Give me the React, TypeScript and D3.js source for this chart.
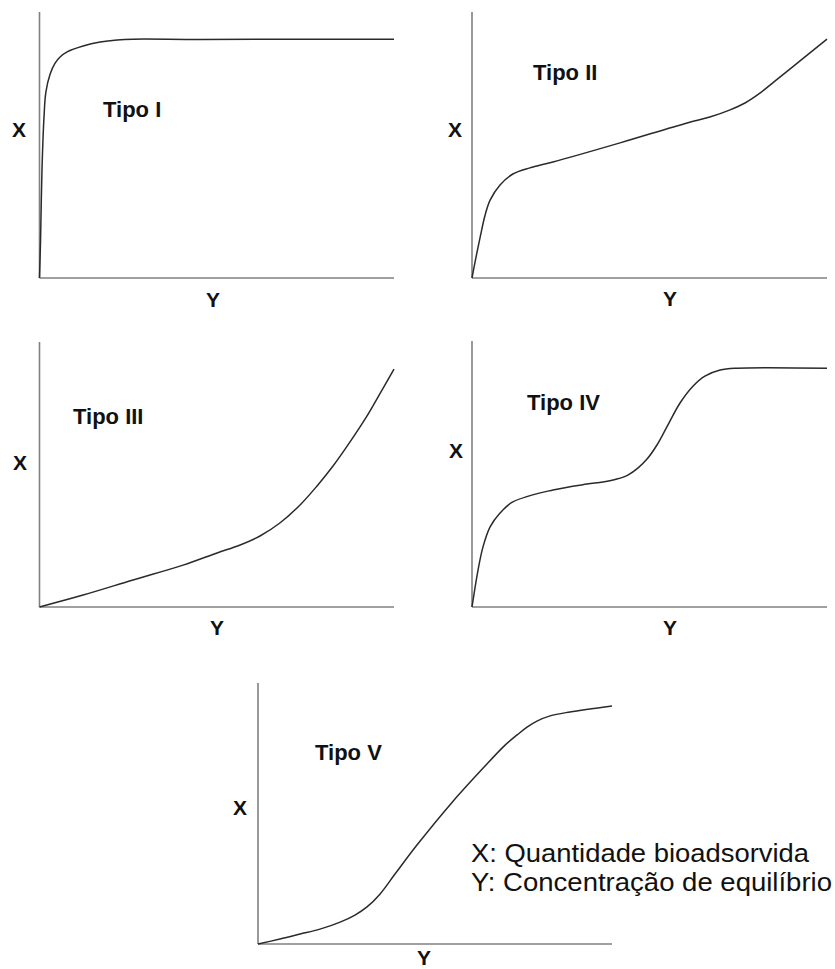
import React from 'react';
import * as d3 from 'd3';

// curve points, in % of each panel's axes (Y across, X up)
const tipoI: [number, number][] = [
  [0, 0], [0.3, 14.3], [0.7, 40.6], [1.3, 61.3], [1.8, 69.9], [3.0, 76.7], [4.4, 80.8],
  [5.8, 83.1], [7.8, 85.0], [12.3, 87.2], [17.1, 88.7], [21.9, 89.5], [26.4, 89.8],
  [45.3, 89.7], [100, 89.8],
];
const tipoII: [number, number][] = [
  [0, 0], [0.8, 5.6], [2.3, 15.4], [3.7, 23.7], [5.1, 29.3], [7.9, 35.0], [11.5, 39.1],
  [16.3, 41.4], [22.8, 43.6], [41.7, 50.8], [60.6, 58.3], [67.0, 60.5], [72.7, 63.2],
  [76.9, 65.8], [81.1, 69.5], [85.4, 74.1], [92.4, 81.6], [100, 89.8],
];
const tipoIII: [number, number][] = [
  [0, 0], [12.3, 4.5], [26.4, 10.2], [40.5, 15.8], [50.1, 20.4], [56.6, 23.4], [62.2, 26.8],
  [67.8, 31.7], [73.5, 38.5], [78.3, 45.7], [82.8, 53.2], [87.6, 62.3], [92.4, 72.1],
  [96.0, 80.4], [100, 89.8],
];
const tipoIV: [number, number][] = [
  [0, 0], [1.7, 13.9], [3.1, 22.6], [5.1, 30.1], [7.9, 35.3], [11.5, 39.5], [22.8, 44.0],
  [32.4, 46.2], [36.9, 47.0], [40.8, 48.1], [43.9, 49.6], [46.8, 52.3], [49.3, 55.6],
  [52.1, 60.9], [54.9, 67.7], [58.6, 76.7], [62.3, 83.1], [65.6, 86.8], [69.9, 89.1],
  [74.6, 89.8], [100, 89.8],
];
const tipoV: [number, number][] = [
  [0, 0], [6.2, 1.9], [11.9, 3.8], [17.5, 5.7], [23.2, 8.4], [27.4, 11.1], [30.8, 14.2],
  [34.5, 19.2], [38.7, 26.8], [44.9, 37.9], [54.2, 53.3], [63.6, 67.4], [69.8, 76.2],
  [73.2, 80.1], [76.0, 83.1], [78.8, 85.4], [82.5, 87.4], [88.1, 88.9], [100, 91.2],
];

const titles = ['Tipo I', 'Tipo II', 'Tipo III', 'Tipo IV', 'Tipo V'];
const legendLines = ['X: Quantidade bioadsorvida', 'Y: Concentração de equilíbrio'];

const panels = [
  { data: tipoI, left: 39.5, right: 394, bottom: 278, top: 12, title: [103, 117], xl: [19, 137], yl: [213, 307] },
  { data: tipoII, left: 472, right: 827, bottom: 278, top: 12, title: [533, 80], xl: [455, 137], yl: [670, 306] },
  { data: tipoIII, left: 39.5, right: 394, bottom: 607, top: 342, title: [73, 424], xl: [20, 470], yl: [217, 635] },
  { data: tipoIV, left: 472, right: 827, bottom: 607, top: 341, title: [527, 410], xl: [456, 458], yl: [670, 635] },
  { data: tipoV, left: 258, right: 612, bottom: 944, top: 683, title: [315, 760], xl: [240, 815], yl: [424, 965] },
];

const font = '"Liberation Sans", Arial, sans-serif';

export default function App() {
  return (
    <svg width={835} height={969} style={{ position: 'absolute', left: 0, top: 0, background: '#fff' }}>
      {panels.map((p, i) => {
        const x = d3.scaleLinear().domain([0, 100]).range([p.left, p.right]);
        const y = d3.scaleLinear().domain([0, 100]).range([p.bottom, p.top]);
        const line = d3.line<[number, number]>()
          .x(d => x(d[0]))
          .y(d => y(d[1]))
          .curve(d3.curveCatmullRom.alpha(0.5));
        return (
          <g key={i}>
            <line x1={x(0)} y1={y(0)} x2={x(0)} y2={y(100)} stroke="#808080" strokeWidth={1.6} />
            <line x1={x(0)} y1={y(0)} x2={x(100)} y2={y(0)} stroke="#808080" strokeWidth={1.6} />
            <path d={line(p.data) || ''} fill="none" stroke="#2a2a2a" strokeWidth={1.5} />
            <text x={p.title[0]} y={p.title[1]} fontFamily={font} fontWeight="bold" fontSize={22} fill="#111">
              {titles[i]}
            </text>
            <text x={p.xl[0]} y={p.xl[1]} textAnchor="middle" fontFamily={font} fontWeight="bold" fontSize={21} fill="#111">X</text>
            <text x={p.yl[0]} y={p.yl[1]} textAnchor="middle" fontFamily={font} fontWeight="bold" fontSize={21} fill="#111">Y</text>
          </g>
        );
      })}
      {legendLines.map((t, i) => (
        <text key={t} x={471} y={862 + i * 29} fontFamily={font} fontSize={25} fill="#111"
          textLength={i === 0 ? 338 : 361} lengthAdjust="spacingAndGlyphs">
          {t}
        </text>
      ))}
    </svg>
  );
}
